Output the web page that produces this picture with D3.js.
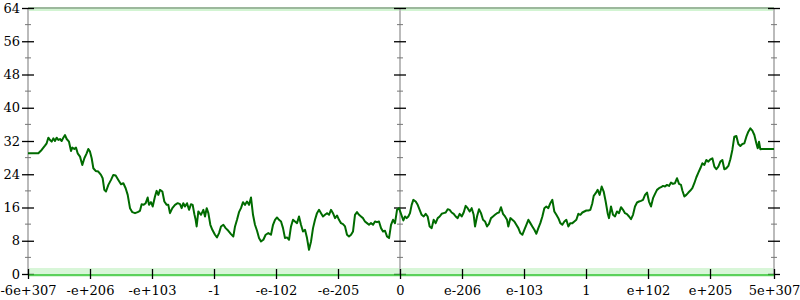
<!DOCTYPE html>
<html>
<head>
<meta charset="utf-8">
<script src="https://cdn.jsdelivr.net/npm/d3@7"></script>
<style>
  body { margin: 0; background: #fff; }
  svg text { font-family: "DejaVu Serif", serif; font-size: 13px; fill: #000; }
</style>
</head>
<body>
<div id="chart"></div>
<script>
// x positions are in "tick units": each labelled tick is one unit apart
const xTickValues = [-6, -5, -4, -3, -2, -1, 0, 1, 2, 3, 4, 5, 6.032];
const xTickLabels = ['-6e+307', '-e+206', '-e+103', '-1', '-e-102', '-e-205', '0',
  'e-206', 'e-103', '1', 'e+102', 'e+205', '5e+307'];
const yMajorTicks = [0, 8, 16, 24, 32, 40, 48, 56, 64];
const yMinorTicks = [4, 12, 20, 28, 36, 44, 52, 60];
const axisPositions = [-6, 0, 6.032];

const seriesX = [
  -6.0, -5.833, -5.78, -5.726, -5.699, -5.672, -5.645, -5.618, -5.591, -5.565, -5.538, -5.511,
  -5.484, -5.457, -5.43, -5.403, -5.376, -5.339, -5.306, -5.285, -5.253, -5.226, -5.199, -5.161,
  -5.124, -5.091, -5.054, -5.027, -5.0, -4.973, -4.946, -4.909, -4.866, -4.823, -4.796, -4.769,
  -4.742, -4.704, -4.661, -4.624, -4.586, -4.543, -4.5, -4.462, -4.425, -4.392, -4.355, -4.317,
  -4.274, -4.231, -4.194, -4.167, -4.134, -4.102, -4.07, -4.048, -4.016, -3.989, -3.952, -3.925,
  -3.898, -3.871, -3.833, -3.801, -3.763, -3.737, -3.71, -3.672, -3.629, -3.586, -3.548, -3.522,
  -3.495, -3.468, -3.435, -3.403, -3.371, -3.344, -3.317, -3.296, -3.28, -3.253, -3.21, -3.172,
  -3.145, -3.118, -3.091, -3.059, -3.027, -2.984, -2.952, -2.919, -2.887, -2.849, -2.812, -2.769,
  -2.726, -2.688, -2.661, -2.629, -2.597, -2.565, -2.532, -2.5, -2.468, -2.435, -2.403, -2.371,
  -2.339, -2.306, -2.274, -2.242, -2.204, -2.167, -2.124, -2.081, -2.048, -2.016, -1.984, -1.952,
  -1.919, -1.887, -1.855, -1.823, -1.79, -1.758, -1.726, -1.694, -1.661, -1.629, -1.597, -1.565,
  -1.532, -1.5, -1.468, -1.435, -1.403, -1.371, -1.339, -1.306, -1.274, -1.242, -1.21, -1.177,
  -1.145, -1.113, -1.081, -1.048, -1.016, -0.984, -0.952, -0.919, -0.887, -0.855, -0.823, -0.79,
  -0.758, -0.726, -0.694, -0.661, -0.629, -0.597, -0.565, -0.532, -0.5, -0.468, -0.435, -0.403,
  -0.371, -0.339, -0.306, -0.274, -0.242, -0.21, -0.177, -0.145, -0.113, -0.081, -0.048, -0.016,
  0.054, 0.081, 0.108, 0.134, 0.161, 0.188, 0.215, 0.253, 0.285, 0.317, 0.349, 0.382,
  0.414, 0.446, 0.478, 0.511, 0.543, 0.575, 0.608, 0.64, 0.672, 0.704, 0.737, 0.769,
  0.801, 0.833, 0.866, 0.898, 0.93, 0.962, 0.995, 1.027, 1.059, 1.091, 1.124, 1.156,
  1.188, 1.21, 1.242, 1.274, 1.306, 1.339, 1.371, 1.403, 1.435, 1.468, 1.5, 1.532,
  1.565, 1.597, 1.629, 1.661, 1.694, 1.726, 1.747, 1.78, 1.812, 1.844, 1.876, 1.909,
  1.941, 1.973, 2.005, 2.038, 2.07, 2.102, 2.134, 2.167, 2.199, 2.231, 2.263, 2.296,
  2.328, 2.36, 2.392, 2.425, 2.457, 2.489, 2.522, 2.554, 2.586, 2.618, 2.651, 2.683,
  2.715, 2.747, 2.78, 2.812, 2.844, 2.876, 2.909, 2.941, 2.973, 3.005, 3.038, 3.07,
  3.102, 3.124, 3.156, 3.188, 3.22, 3.253, 3.285, 3.317, 3.349, 3.371, 3.403, 3.435,
  3.468, 3.5, 3.532, 3.565, 3.597, 3.629, 3.661, 3.694, 3.726, 3.758, 3.79, 3.823,
  3.855, 3.887, 3.919, 3.952, 3.984, 4.016, 4.048, 4.081, 4.113, 4.145, 4.177, 4.21,
  4.242, 4.274, 4.306, 4.339, 4.371, 4.403, 4.435, 4.468, 4.5, 4.532, 4.554, 4.586,
  4.618, 4.651, 4.683, 4.715, 4.747, 4.78, 4.812, 4.844, 4.876, 4.909, 4.941, 4.973,
  5.005, 5.038, 5.07, 5.102, 5.134, 5.167, 5.199, 5.231, 5.263, 5.296, 5.328, 5.36,
  5.392, 5.425, 5.457, 5.489, 5.522, 5.554, 5.586, 5.618, 5.651, 5.683, 5.715, 5.747,
  5.769, 5.79, 5.812, 5.833, 6.032
];
const seriesY = [
  29.04, 29.04, 29.84, 30.88, 31.44, 32.8, 32.24, 31.84, 32.64, 32.0, 32.8, 32.24,
  32.48, 32.0, 32.8, 33.44, 32.48, 31.84, 29.6, 30.4, 30.08, 30.4, 29.04, 28.24,
  26.24, 27.84, 29.04, 30.08, 29.44, 27.84, 25.44, 24.8, 24.64, 23.84, 23.04, 20.24,
  19.84, 21.44, 22.64, 23.84, 23.68, 22.64, 21.6, 21.84, 20.64, 19.04, 15.84, 14.88,
  14.64, 14.88, 15.2, 16.8, 16.64, 17.04, 18.4, 16.64, 17.28, 16.24, 18.64, 20.0,
  19.04, 20.24, 19.84, 17.44, 16.64, 16.64, 14.64, 15.84, 16.64, 17.04, 16.8, 15.84,
  17.04, 16.24, 17.04, 15.44, 16.8, 16.64, 14.4, 13.04, 11.44, 15.04, 14.24, 15.44,
  13.84, 15.84, 14.64, 11.84, 10.64, 9.44, 8.8, 9.84, 11.44, 11.84, 11.04, 10.4,
  9.6, 9.04, 11.44, 13.04, 14.88, 15.84, 17.28, 16.64, 17.44, 16.64, 18.4, 14.24,
  11.84, 10.4, 8.64, 7.84, 8.24, 9.44, 9.84, 9.44, 11.84, 13.04, 13.6, 13.04,
  12.64, 11.04, 8.64, 8.8, 8.24, 11.44, 13.04, 12.64, 12.24, 13.84, 11.84, 10.24,
  10.64, 8.64, 5.84, 7.84, 11.04, 13.04, 14.64, 15.44, 14.64, 13.84, 14.24, 14.64,
  14.24, 15.44, 14.64, 13.44, 14.08, 13.04, 12.24, 12.0, 11.44, 9.44, 9.04, 9.44,
  10.24, 14.24, 14.88, 14.24, 13.84, 13.44, 12.64, 12.24, 11.84, 12.24, 11.84, 12.64,
  12.48, 12.64, 11.04, 10.24, 10.4, 9.04, 8.64, 11.84, 13.04, 12.24, 15.44, 15.84,
  12.88, 13.84, 13.44, 13.84, 14.64, 16.64, 17.84, 17.44, 16.64, 15.44, 14.24, 13.84,
  14.48, 13.84, 11.44, 11.04, 13.04, 12.24, 13.44, 13.84, 14.48, 14.64, 14.8, 15.6,
  15.44, 14.8, 14.48, 13.84, 13.44, 14.48, 13.84, 14.8, 16.4, 15.84, 15.04, 15.84,
  14.24, 11.44, 13.84, 15.6, 14.64, 13.04, 12.64, 11.44, 12.08, 13.44, 13.84, 14.24,
  14.64, 14.8, 16.08, 14.48, 13.84, 13.04, 11.44, 13.44, 13.04, 12.64, 11.84, 11.04,
  9.84, 9.44, 10.64, 11.84, 13.04, 12.24, 11.44, 10.64, 9.68, 11.04, 12.24, 13.84,
  15.84, 16.24, 15.84, 17.04, 17.84, 15.04, 14.24, 13.44, 12.24, 11.84, 12.64, 13.04,
  11.44, 12.24, 12.24, 12.64, 13.04, 14.48, 14.24, 14.8, 15.04, 15.28, 15.28, 15.44,
  17.04, 18.8, 19.44, 20.24, 19.04, 21.04, 19.84, 17.44, 14.64, 13.44, 16.24, 14.24,
  13.84, 15.04, 14.64, 16.08, 15.44, 14.64, 14.4, 13.84, 13.2, 14.24, 16.24, 17.2,
  17.44, 17.6, 17.84, 19.04, 19.6, 17.44, 16.24, 18.24, 19.28, 20.24, 20.64, 20.88,
  21.2, 21.04, 21.44, 21.2, 22.0, 21.68, 21.84, 23.04, 21.68, 21.44, 20.08, 18.64,
  19.04, 19.6, 20.08, 20.64, 21.84, 23.28, 24.4, 25.44, 26.64, 26.24, 27.44, 27.04,
  27.6, 27.84, 25.84, 25.2, 25.84, 27.04, 27.44, 25.2, 25.44, 26.0, 27.6, 29.84,
  33.04, 33.2, 31.28, 30.8, 31.28, 31.44, 33.04, 34.24, 35.04, 34.48, 33.44, 31.44,
  30.24, 31.84, 30.0, 30.08, 30.08
];

const W = 800, H = 300;
const margin = { top: 8, right: 26, bottom: 26, left: 28 };

const svg = d3.select('#chart').append('svg')
  .attr('width', W)
  .attr('height', H);

const x = d3.scaleLinear().domain([-6, 6.032]).range([margin.left, W - margin.right]);
const y = d3.scaleLinear().domain([0, 64]).range([H - margin.bottom, margin.top]);

// pale green bands at the top and bottom edges
svg.append('rect')
  .attr('x', x(-6)).attr('y', y(64))
  .attr('width', x(6.032) - x(-6)).attr('height', 3)
  .attr('fill', '#7de07d').attr('opacity', 0.35);
svg.append('rect')
  .attr('x', x(-6)).attr('y', y(0) - 6)
  .attr('width', x(6.032) - x(-6)).attr('height', 9)
  .attr('fill', '#7de07d').attr('opacity', 0.3);

// top border
svg.append('line')
  .attr('x1', x(-6)).attr('x2', x(6.032))
  .attr('y1', y(64)).attr('y2', y(64))
  .attr('stroke', '#9cb89c').attr('stroke-width', 2);

// vertical axes: left, centre, right
axisPositions.forEach((p, i) => {
  const g = svg.append('g').attr('transform', `translate(${x(p)},0)`);

  g.append('line')
    .attr('y1', y(0)).attr('y2', y(64))
    .attr('stroke', '#bbb').attr('stroke-width', 2);

  g.selectAll('.minor')
    .data(yMinorTicks)
    .enter()
    .append('line')
    .attr('class', 'minor')
    .attr('x1', -3).attr('x2', 3)
    .attr('y1', (d) => y(d)).attr('y2', (d) => y(d))
    .attr('stroke', '#777').attr('stroke-width', 1);

  const axis = g.append('g')
    .call(d3.axisLeft(y).tickValues(yMajorTicks).tickSize(6).tickPadding(2)
      .tickFormat(i === 0 ? d3.format('d') : ''));
  axis.select('.domain').remove();
  axis.selectAll('.tick line').attr('x1', 6).attr('stroke', '#000').attr('stroke-width', 1.3);
  axis.selectAll('.tick text').style('font-size', '13px').attr('fill', '#000');
});

// bottom edge line
svg.append('line')
  .attr('x1', x(-6)).attr('x2', x(6.032))
  .attr('y1', y(0) + 1).attr('y2', y(0) + 1)
  .attr('stroke', '#3cc83c').attr('stroke-width', 2).attr('opacity', 0.8);

// x axis
const xAxis = svg.append('g')
  .attr('transform', `translate(0,${y(0)})`)
  .call(d3.axisBottom(x).tickValues(xTickValues).tickSize(5).tickPadding(7)
    .tickFormat((d, i) => xTickLabels[i]));
xAxis.select('.domain').remove();
xAxis.selectAll('.tick line').attr('y1', -5).attr('stroke', '#000').attr('stroke-width', 1.3);
xAxis.selectAll('.tick text').style('font-size', '13px').attr('fill', '#000');

// the series line
const points = seriesX.map((d, i) => ({ x: d, y: seriesY[i] }));
const line = d3.line()
  .x((d) => x(d.x))
  .y((d) => y(d.y));

svg.append('path')
  .datum(points)
  .attr('fill', 'none')
  .attr('stroke', '#006b00')
  .attr('stroke-width', 2)
  .attr('stroke-linejoin', 'round')
  .attr('d', line);
</script>
</body>
</html>
